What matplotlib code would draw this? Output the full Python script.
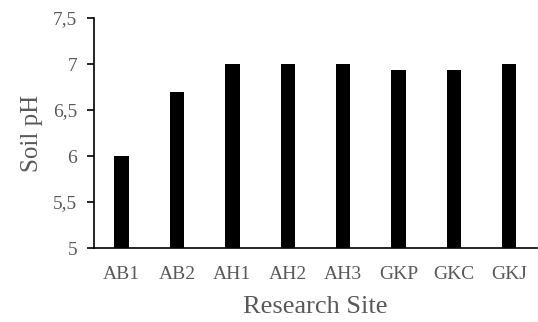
import matplotlib.pyplot as plt
import numpy as np

sites = ["AB1", "AB2", "AH1", "AH2", "AH3", "GKP", "GKC", "GKJ"]
soil_ph = [6.0, 6.7, 7.0, 7.0, 7.0, 6.93, 6.93, 7.0]
y_ticks = [5, 5.5, 6, 6.5, 7, 7.5]
y_tick_labels = ["5", "5,5", "6", "6,5", "7", "7,5"]

text_color = "#595959"
plt.rcParams["font.family"] = ["Liberation Serif", "DejaVu Serif"]

fig = plt.figure(figsize=(5.38, 3.22), dpi=100)
ax = fig.add_axes([0.1747, 0.2298, 0.8233, 0.7142])

x = np.arange(len(sites))
ax.bar(x, soil_ph, width=0.26, color="black", bottom=0)

ax.set_ylim(5, 7.5)
ax.set_xlim(-0.5, len(sites) - 0.5)
ax.set_yticks(y_ticks)
ax.set_yticklabels(y_tick_labels)
ax.set_xticks(x)
ax.set_xticklabels(sites)

for side in ["top", "right"]:
    ax.spines[side].set_visible(False)
for side in ["left", "bottom"]:
    ax.spines[side].set_linewidth(1.2)
    ax.spines[side].set_color("black")

ax.tick_params(axis="y", length=5, width=1.2, colors="black", labelcolor=text_color,
               labelsize=14, pad=7)
ax.tick_params(axis="x", length=0, labelcolor=text_color, labelsize=14, pad=13)

ax.set_ylabel("Soil pH", fontsize=18, color=text_color, labelpad=7)
ax.set_xlabel("Research Site", fontsize=19, color=text_color, labelpad=9)

fig.savefig("out.png", dpi=100)
